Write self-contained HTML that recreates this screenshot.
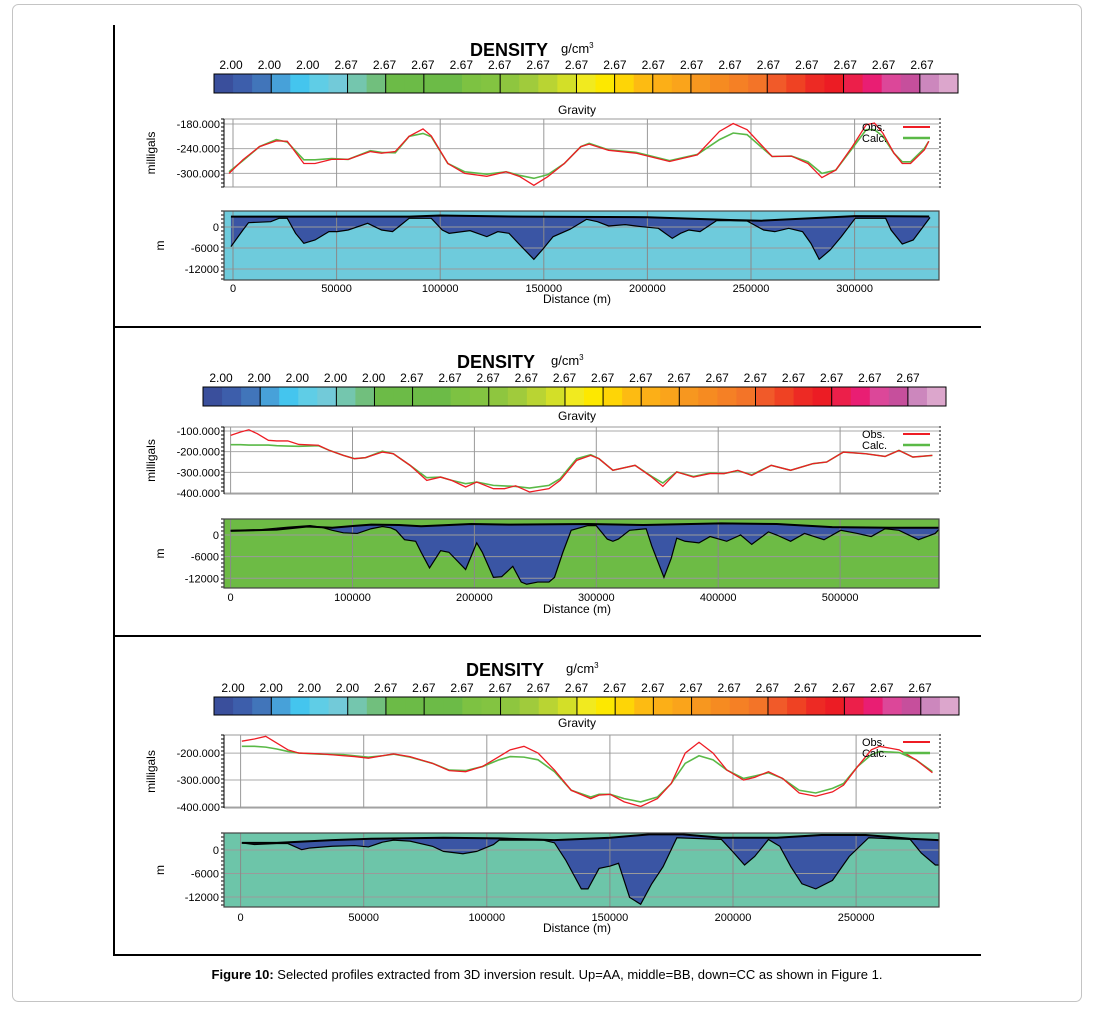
<!DOCTYPE html>
<html><head><meta charset="utf-8"><style>
html,body{margin:0;padding:0;background:#fff;}
svg{display:block;font-family:"Liberation Sans",Arial,sans-serif;}
</style></head><body>
<svg id="fig" width="1095" height="1010" viewBox="0 0 1095 1010" xmlns="http://www.w3.org/2000/svg">
<rect x="12.5" y="4.5" width="1069" height="997" rx="6" fill="#fff" stroke="#c4c4c4"/>
<line x1="114" y1="25" x2="114" y2="956" stroke="#000" stroke-width="2"/>
<line x1="113" y1="327" x2="981" y2="327" stroke="#000" stroke-width="2"/>
<line x1="113" y1="636" x2="981" y2="636" stroke="#000" stroke-width="2"/>
<line x1="113" y1="955" x2="981" y2="955" stroke="#000" stroke-width="2"/>
<text x="547" y="979" font-size="13" text-anchor="middle"><tspan font-weight="bold">Figure 10:</tspan> Selected profiles extracted from 3D inversion result. Up=AA, middle=BB, down=CC as shown in Figure 1.</text>
</svg>
<script>
// ---------- Panel 1 (AA) data ----------
const p1Km   = [-1.9,4.8,12.8,20.9,26.2,34.2,39.6,47.6,55.6,66.3,71.7,78.3,85,91.7,95.7,103.7,111.8,122.5,131.8,138.5,145.2,151.9,159.9,167.9,171.9,181.3,194.7,210.7,224.1,234.8,241.4,248.1,260.2,269.5,277.5,284.2,290.9,298.9,305.6,309.6,313.6,319,323,327,333.7,335.8];
const p1Obs  = [-300,-267,-235,-221,-222,-276,-276,-266,-266,-247,-251,-247,-210,-192,-209,-276,-300,-307,-296,-308,-329,-308,-276,-235,-229,-244,-251,-271,-255,-198,-179,-194,-259,-258,-276,-310,-292,-235,-182,-178,-202,-251,-276,-276,-243,-222];
const p1Calc = [-296,-269,-235,-218,-224,-267,-267,-264,-266,-245,-249,-250,-210,-203,-211,-276,-296,-302,-296,-305,-312,-303,-276,-235,-227,-243,-249,-269,-254,-218,-202,-206,-259,-258,-272,-300,-292,-239,-194,-194,-210,-251,-272,-272,-239,-222];
const p1TopKm = [-1,30,85,100,140,200,240,255,300,336];
const p1Top   = [2950,2950,2950,3300,2950,2800,2000,1800,3100,3000];
const p1BotKm = [-1,4.8,7.5,18.2,22.2,26.2,30.2,34.2,39.6,46.3,50.3,55.6,65,71.7,77,81,85,95.7,101,104.3,114.4,122.5,127.8,133.2,138.5,145.2,149.2,154.5,162.6,170.6,175.9,181.3,189.3,197.3,205.3,212,216,220,225.4,233.4,240.1,248.1,256.1,261.5,268.2,274.9,278.9,282.9,288.2,293.6,300.3,315,317.6,323,328.3,336.4];
const p1Bot   = [-5600,-857,1230,1520,2480,2480,-1810,-4670,-3710,-1330,-1330,-857,1050,-857,-1330,570,2480,2480,-857,-1810,-1050,-2760,-1330,-1810,-5140,-9240,-6570,-2760,-670,2190,1520,290,670,95,-380,-3240,-1810,-857,-1330,1810,1810,1710,-857,-1330,-380,-1330,-4670,-9240,-6570,-2760,2480,2480,-857,-4860,-3710,2700];
const p1XTicks = [0,50000,100000,150000,200000,250000,300000];
const p1GTicks = [-180,-240,-300];
// ---------- Panel 2 (BB) data ----------
const p2Km   = [0,8.2,15,21.9,31,37.8,46.9,56,72,81.1,92.5,101.6,110.7,124.4,133.5,147.2,160.9,172.3,181.4,192.8,201.9,215.6,224.7,233.8,245.2,261.2,270.3,283.9,295.4,302.2,313.6,331.8,345.5,354.6,366,379.7,393.3,404.7,416.1,427.5,443.5,459.4,477.7,489,502.7,521,536.9,548.3,559.7,575.7];
const p2Obs  = [-121,-105,-94,-113,-145,-148,-148,-165,-169,-194,-218,-234,-229,-202,-210,-266,-339,-323,-339,-371,-347,-379,-379,-365,-395,-379,-339,-242,-218,-234,-290,-266,-323,-368,-298,-323,-306,-306,-290,-315,-266,-290,-258,-250,-202,-210,-223,-194,-226,-218];
const p2Calc = [-166,-166,-168,-168,-168,-171,-173,-174,-171,-194,-218,-234,-229,-198,-210,-266,-326,-323,-339,-355,-347,-363,-366,-368,-376,-363,-331,-234,-215,-234,-290,-266,-320,-352,-298,-320,-303,-306,-292,-312,-266,-290,-258,-250,-202,-210,-223,-194,-226,-218];
const p2TopKm = [0,37.8,62.9,83.4,101.6,115.3,138.1,156.3,197.4,229.3,293.1,338.7,402.5,448,493.6,548.3,581];
const p2Top   = [1131,1480,2350,2000,2520,2870,2780,2440,3045,2870,3045,2780,3220,3045,2175,2000,2000];
const p2BotKm = [0,24.2,46.9,65.2,74.3,83.4,92.5,103.9,115.3,124.4,131.3,135.8,142.7,151.8,156.3,163.2,172.3,179.1,192.8,201.9,206.5,215.6,222.4,231.5,238.4,242.9,252,261.2,265.7,272.6,279.4,293.1,299.9,309,313.6,318.1,327.3,340.9,345.5,355.5,361.4,366,372.8,384.2,393.3,407,418.4,427.5,441.2,448,459.4,470.8,486.8,500.5,514.1,525.5,536.9,548.3,564.3,578,581];
const p2Bot   = [1305,1480,2175,2610,2175,1305,609,435,1740,2350,2000,1305,-1305,-1740,-4785,-9135,-4350,-4785,-9570,-2175,-4785,-11745,-11571,-8700,-13050,-13660,-13050,-13050,-11745,-4785,1305,2610,2610,-1131,-1740,-1131,1305,1740,-3045,-11745,-6525,-870,-1740,-2175,-435,-1740,0,-2610,870,0,-1740,435,-1305,1305,435,-435,1740,1305,-1305,435,1500];
const p2XTicks = [0,100000,200000,300000,400000,500000];
const p2GTicks = [-100,-200,-300,-400];
// ---------- Panel 3 (CC) data ----------
const p3Km   = [0.5,5.6,10.2,14.7,19.2,23.7,32.7,41.8,46.3,51.9,57.6,62.1,68.8,77.9,84.7,91.4,98.2,105,109.5,115.1,120.8,127.5,134.3,142.2,145.6,150.1,155.8,162.5,169.3,174.9,180.6,186.2,191.9,197.5,204.3,208.8,214.4,220.1,226.9,233.6,240.4,244.9,250.6,256.2,259.6,267.5,274.3,281];
const p3Obs  = [-156,-148,-138,-163,-188,-200,-203,-210,-213,-219,-210,-203,-213,-238,-265,-269,-250,-213,-188,-175,-200,-263,-338,-369,-356,-353,-381,-398,-369,-313,-200,-160,-200,-263,-300,-290,-269,-294,-348,-360,-344,-319,-250,-188,-175,-188,-225,-273];
const p3Calc = [-175,-175,-178,-185,-194,-200,-204,-206,-210,-215,-210,-204,-215,-238,-263,-265,-250,-225,-213,-215,-225,-269,-338,-363,-353,-353,-369,-381,-363,-313,-238,-210,-225,-263,-294,-285,-273,-294,-338,-348,-331,-313,-250,-206,-194,-198,-225,-269];
const p3TopKm = [0.5,14.7,37.2,53,82.4,105,127.5,150.1,166,179.5,195.3,217.8,235.9,253.9,272,283.5];
const p3Top   = [1827,1827,2523,2871,3132,2958,2523,3132,4002,4002,3132,3132,3828,3828,2871,2523];
const p3BotKm = [0.5,5.6,14.7,19.2,24.8,28.2,37.2,46.3,51.9,57.6,62.1,68.8,77.9,82.4,90.3,95.9,102.7,105,123,127.5,132,138.4,141.1,145.6,150.1,153.5,158,162.5,167,171.6,177.2,195.3,199.8,204.7,208.8,214.4,219,223.5,228,233.6,240.4,247.2,255.1,272,276.5,282.2,283.5];
const p3Bot   = [1827,1392,1653,1653,87,522,957,1131,783,2000,2523,2262,957,-348,-957,-348,1392,2523,2523,1827,-2523,-9918,-9918,-4698,-4089,-3393,-12093,-13833,-8613,-4263,3132,2697,-348,-3828,-1653,2697,957,-4263,-8613,-9918,-7743,-1653,3132,2697,-783,-3828,-3828];
const p3XTicks = [0,50000,100000,150000,200000,250000];
const p3GTicks = [-200,-300,-400];
const depthTicks = [0,-6000,-12000];

const cbarColors = ["#3a4f9c","#3d5eab","#4175ba","#47a1d9","#44c5ee","#5fcde6","#72cad9","#74c6ae","#71bf7d","#6cbb47","#6cbb47","#6cbb47","#6cbb47","#7dc242","#83c441","#8ec63f","#a0cb3c","#b9d433","#d3df28","#f1ea1f","#fde800","#fed506","#fdbb12","#fcaf17","#faa41b","#f7971f","#f68b21","#f58025","#f37428","#f15a29","#ef4223","#ed2a24","#ec1c24","#ec1f4a","#e91e73","#dc4799","#c64f9c","#cc87bd","#dca6cc"];
const cbarDividers = [3,7,9,11,15,19,21,23,25,29,33,37];

const NS = "http://www.w3.org/2000/svg";
const svg = document.getElementById("fig");
function mk(tag, parent){ const e = document.createElementNS(NS, tag); parent.appendChild(e); return e; }
function setA(e, o){ for (const k in o) e.setAttribute(k, o[k]); return e; }

const panels = [
 {key:"aa", labels:["2.00","2.00","2.00","2.67","2.67","2.67","2.67","2.67","2.67","2.67","2.67","2.67","2.67","2.67","2.67","2.67","2.67","2.67","2.67"],
  km:p1Km, obs:p1Obs, calc:p1Calc, topKm:p1TopKm, top:p1Top, botKm:p1BotKm, bot:p1Bot, xt:p1XTicks, gt:p1GTicks,
  L:{titleX:470,titleY:56,unitX:561,lblY:69,lbl0:231,lbl1:922,cb:[214,958,74,93],gravY:114,gf:[224,939,119,187],gd:[-333,-168],x0:233,ppk:2.072,
     df:[224,939,211,280],dd:[-15140,4570],xlY:292,distY:303,legY:130,fill:"#6ecbdc",dataL:231}},
 {key:"bb", labels:["2.00","2.00","2.00","2.00","2.00","2.67","2.67","2.67","2.67","2.67","2.67","2.67","2.67","2.67","2.67","2.67","2.67","2.67","2.67"],
  km:p2Km, obs:p2Obs, calc:p2Calc, topKm:p2TopKm, top:p2Top, botKm:p2BotKm, bot:p2Bot, xt:p2XTicks, gt:p2GTicks,
  L:{titleX:457,titleY:368,unitX:551,lblY:382,lbl0:221,lbl1:908,cb:[203,946,387,406],gravY:420,gf:[224,939,427,494],gd:[-404.8,-80.6],x0:230.6,ppk:1.219,
     df:[224,939,519,588],dd:[-14700,4440],xlY:601,distY:613,legY:437,fill:"#6dbb45",dataL:229}},
 {key:"cc", labels:["2.00","2.00","2.00","2.00","2.67","2.67","2.67","2.67","2.67","2.67","2.67","2.67","2.67","2.67","2.67","2.67","2.67","2.67","2.67"],
  km:p3Km, obs:p3Obs, calc:p3Calc, topKm:p3TopKm, top:p3Top, botKm:p3BotKm, bot:p3Bot, xt:p3XTicks, gt:p3GTicks,
  L:{titleX:466,titleY:676,unitX:566,lblY:692,lbl0:233,lbl1:920,cb:[214,959,697,715],gravY:727,gf:[224,939,735,808],gd:[-403.7,-133],x0:240.6,ppk:2.462,
     df:[224,939,833,907],dd:[-14540,4340],xlY:921,distY:932,legY:745,fill:"#6dc5a9",dataL:232}}
];

panels.forEach(function(P){
  const L = P.L;
  const g = mk("g", svg);
  
  
  const xs = function(km){ return L.x0 + km * L.ppk; };
  const ys = function(v){ return L.gf[3] - (v - L.gd[0]) / (L.gd[1] - L.gd[0]) * (L.gf[3] - L.gf[2]); };
  const yd = function(v){ return L.df[3] - (v - L.dd[0]) / (L.dd[1] - L.dd[0]) * (L.df[3] - L.df[2]); };

  // Title
  const t = mk("text", g);
  setA(t, {x:L.titleX, y:L.titleY, "font-size":18, "font-weight":"bold"});
  t.textContent = "DENSITY";
  
  
  const u = mk("text", g);
  setA(u, {x:L.unitX, y:L.titleY-3, "font-size":13});
  u.innerHTML = 'g/cm<tspan font-size="8" dy="-5">3</tspan>';
  
  

  // Colorbar labels
  P.labels.forEach(function(s, i){
    const tl = mk("text", g);
    setA(tl, {x:L.lbl0 + i*(L.lbl1-L.lbl0)/(P.labels.length-1), y:L.lblY, "font-size":12, "text-anchor":"middle"});
    tl.textContent = s;
    
    
  });
  // Colorbar
  const cw = (L.cb[1]-L.cb[0]) / cbarColors.length;
  cbarColors.forEach(function(c, i){
    const r = mk("rect", g);
    setA(r, {x:L.cb[0]+i*cw, y:L.cb[2], width:cw+0.5, height:L.cb[3]-L.cb[2], fill:c});
    
    
  });
  cbarDividers.forEach(function(d){
    const l = mk("line", g);
    setA(l, {x1:L.cb[0]+d*cw, x2:L.cb[0]+d*cw, y1:L.cb[2], y2:L.cb[3], stroke:"#000", "stroke-width":1});
    
    
  });
  const cbo = mk("rect", g);
  setA(cbo, {x:L.cb[0], y:L.cb[2], width:L.cb[1]-L.cb[0], height:L.cb[3]-L.cb[2], fill:"none", stroke:"#000", "stroke-width":1});
  
  

  // Gravity title
  const gt = mk("text", g);
  setA(gt, {x:577, y:L.gravY, "font-size":12, "text-anchor":"middle"});
  gt.textContent = "Gravity";
  
  

  // Gravity frame & grid
  const gf = L.gf;
  [gf[2], gf[3]].forEach(function(yy){
    const l = mk("line", g);
    setA(l, {x1:gf[0], x2:gf[1], y1:yy, y2:yy, stroke:"#999", "stroke-width":1});
    
    
  });
  P.gt.forEach(function(v){
    const l = mk("line", g);
    setA(l, {x1:gf[0], x2:gf[1], y1:ys(v), y2:ys(v), stroke:"#aaa", "stroke-width":1});
    
    
    const tk = mk("text", g);
    setA(tk, {x:gf[0]-4, y:ys(v)+4, "font-size":11, "text-anchor":"end"});
    tk.textContent = v.toFixed(3);
    
    
  });
  P.xt.forEach(function(v){
    const x = xs(v/1000);
    const l = mk("line", g);
    setA(l, {x1:x, x2:x, y1:gf[2], y2:gf[3], stroke:"#999", "stroke-width":1});
    
    
  });
  for (let yy = gf[2]; yy <= gf[3]; yy += 4) {
    const m1 = mk("line", g);
    setA(m1, {x1:gf[0]-3, x2:gf[0], y1:yy, y2:yy, stroke:"#000", "stroke-width":1});
    
    
    const m2 = mk("line", g);
    setA(m2, {x1:gf[1], x2:gf[1]+2, y1:yy, y2:yy, stroke:"#000", "stroke-width":1});
    
    
  }
  const la = mk("line", g);
  setA(la, {x1:gf[0], x2:gf[0], y1:gf[2], y2:gf[3], stroke:"#000", "stroke-width":1});
  
  

  const yl = mk("text", g);
  setA(yl, {x:0, y:0, "font-size":12, "text-anchor":"middle", transform:"translate(155," + ((gf[2]+gf[3])/2) + ") rotate(-90)"});
  yl.textContent = "milligals";
  
  

  // Series
  const calcPath = mk("polyline", g);
  setA(calcPath, {points:P.km.map(function(k,i){return xs(k)+","+ys(P.calc[i]);}).join(" "), fill:"none", stroke:"#5ab947", "stroke-width":1.6});
  
  
  const obsPath = mk("polyline", g);
  setA(obsPath, {points:P.km.map(function(k,i){return xs(k)+","+ys(P.obs[i]);}).join(" "), fill:"none", stroke:"#ee1c24", "stroke-width":1.3});
  
  

  // Legend
  const lo = mk("text", g);
  setA(lo, {x:862, y:L.legY+1, "font-size":11});
  lo.textContent = "Obs.";
  
  
  const lol = mk("line", g);
  setA(lol, {x1:903, x2:930, y1:L.legY-3, y2:L.legY-3, stroke:"#ee1c24", "stroke-width":2});
  
  
  const lc = mk("text", g);
  setA(lc, {x:862, y:L.legY+12, "font-size":11});
  lc.textContent = "Calc.";
  
  
  const lcl = mk("line", g);
  setA(lcl, {x1:903, x2:930, y1:L.legY+8, y2:L.legY+8, stroke:"#5ab947", "stroke-width":2.5});
  
  

  // Depth section
  const df = L.df;
  const bg = mk("rect", g);
  setA(bg, {x:df[0], y:df[2], width:df[1]-df[0], height:df[3]-df[2], fill:L.fill});
  
  
  const strip = mk("rect", g);
  setA(strip, {x:df[0], y:df[2], width:L.dataL-df[0], height:df[3]-df[2], fill:L.fill, opacity:0.7});
  
  
  const topPts = P.topKm.map(function(k,i){return xs(k)+","+yd(P.top[i]);});
  const botPts = P.botKm.map(function(k,i){return xs(k)+","+yd(P.bot[i]);});
  const body = mk("polygon", g);
  setA(body, {points:topPts.concat(botPts.slice().reverse()).join(" "), fill:"#3a55a4"});
  
  
  depthTicks.forEach(function(v){
    const l = mk("line", g);
    setA(l, {x1:df[0], x2:df[1], y1:yd(v), y2:yd(v), stroke:"#9a9a9a", "stroke-width":1});
    
    
    const tk = mk("text", g);
    setA(tk, {x:df[0]-5, y:yd(v)+4, "font-size":11, "text-anchor":"end"});
    tk.textContent = String(v);
    
    
  });
  P.xt.forEach(function(v){
    const x = xs(v/1000);
    const l = mk("line", g);
    setA(l, {x1:x, x2:x, y1:df[2], y2:df[3], stroke:"#8a8a8a", "stroke-width":1});
    
    
    const tk = mk("text", g);
    setA(tk, {x:x, y:L.xlY, "font-size":11, "text-anchor":"middle"});
    tk.textContent = String(v);
    
    
  });
  const tl2 = mk("polyline", g);
  setA(tl2, {points:topPts.join(" "), fill:"none", stroke:"#000", "stroke-width":2});
  
  
  const bl2 = mk("polyline", g);
  setA(bl2, {points:botPts.join(" "), fill:"none", stroke:"#000", "stroke-width":1.2});
  
  
  for (let yy = df[2]; yy <= df[3]; yy += 4) {
    const m1 = mk("line", g);
    setA(m1, {x1:df[0]-3, x2:df[0], y1:yy, y2:yy, stroke:"#000", "stroke-width":1});
    
    
  }
  const dfr = mk("rect", g);
  setA(dfr, {x:df[0], y:df[2], width:df[1]-df[0], height:df[3]-df[2], fill:"none", stroke:"#444", "stroke-width":1.2});
  
  
  const ml = mk("text", g);
  setA(ml, {x:0, y:0, "font-size":12, "text-anchor":"middle", transform:"translate(164," + ((df[2]+df[3])/2) + ") rotate(-90)"});
  ml.textContent = "m";
  
  
  const dt = mk("text", g);
  setA(dt, {x:577, y:L.distY, "font-size":12, "text-anchor":"middle"});
  dt.textContent = "Distance (m)";
  
  
});
</script>
</body></html>
